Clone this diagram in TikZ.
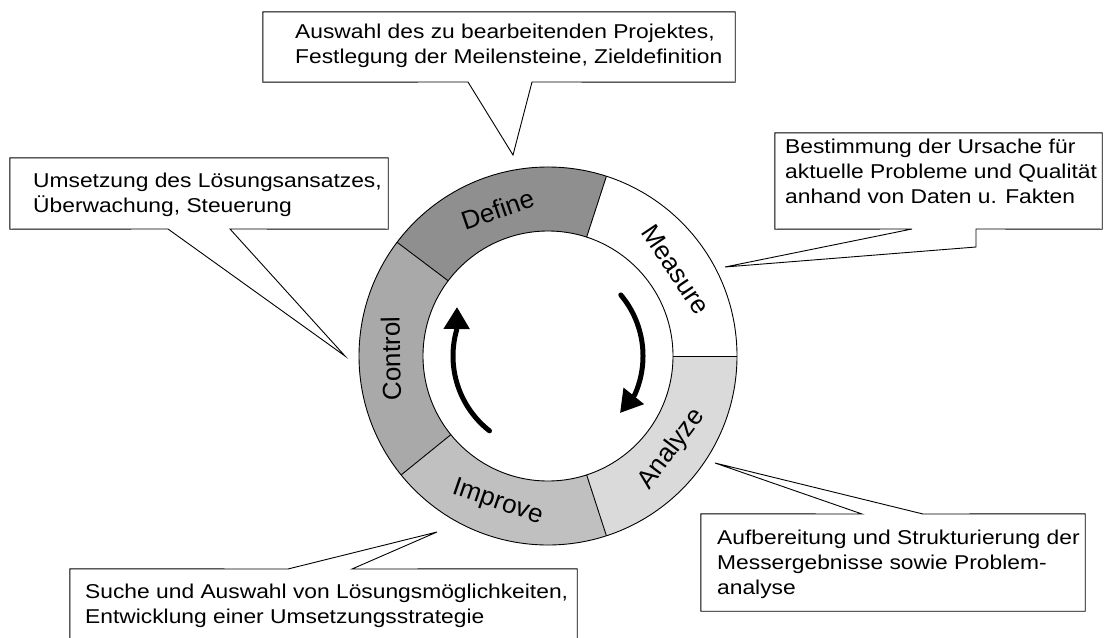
\documentclass[tikz,border=0pt]{standalone}
\usepackage{fontspec}
\setmainfont{Liberation Sans}
\newfontfamily\callfont{Liberation Sans}[FakeStretch=1.14]
\usetikzlibrary{arrows.meta}
\definecolor{cDefine}{HTML}{8F8F8F}
\definecolor{cControl}{HTML}{A9A9A9}
\definecolor{cImprove}{HTML}{C0C0C0}
\definecolor{cAnalyze}{HTML}{DADADA}
\definecolor{cMeasure}{HTML}{FFFFFF}
\begin{document}
\begin{tikzpicture}[x=1pt,y=-1pt,
  boxshape/.style={draw=none, inner sep=0pt, minimum width=#1},
  callline/.style={draw=black, fill=white, line width=0.9pt, line join=miter},
  ctext/.style={anchor=base west, inner sep=0pt, font=\callfont\fontsize{20}{24}\selectfont},
  ringlabel/.style={inner sep=0pt, font=\fontsize{26}{30}\selectfont},
  ringline/.style={draw=black, line width=0.9pt},
  cyclearrow/.style={line width=5pt, line cap=round, -{Triangle[width=25pt,length=22pt]}}]
\useasboundingbox (0,0) rectangle (1105,637);
\clip (0,0) rectangle (1105,637);
\fill[white] (0,0) rectangle (1105,637);

% ---------------- ring ----------------
\begin{scope}[shift={(548,356)}, yscale=-1]
  \fill[cMeasure] (0:189) arc[start angle=0,end angle=72,radius=189] -- (72:125) arc[start angle=72,end angle=0,radius=125] -- cycle;
  \fill[cDefine] (72:189) arc[start angle=72,end angle=143,radius=189] -- (143:125) arc[start angle=143,end angle=72,radius=125] -- cycle;
  \fill[cControl] (143:189) arc[start angle=143,end angle=219,radius=189] -- (219:125) arc[start angle=219,end angle=143,radius=125] -- cycle;
  \fill[cImprove] (219:189) arc[start angle=219,end angle=288,radius=189] -- (288:125) arc[start angle=288,end angle=219,radius=125] -- cycle;
  \fill[cAnalyze] (288:189) arc[start angle=288,end angle=360,radius=189] -- (360:125) arc[start angle=360,end angle=288,radius=125] -- cycle;
  \draw[ringline] (0,0) circle[radius=189];
  \draw[ringline] (0,0) circle[radius=125];
  \foreach \a in {0,72,143,219,288} {\draw[ringline] (\a:125) -- (\a:189);}

  \node[ringlabel, rotate=19] (lDefine) at (109:155) {Define};
  \node[ringlabel, rotate=-56] (lMeasure) at (34:154) {Measure};
  \node[ringlabel, rotate=53] (lAnalyze) at (-37:155) {Analyze};
  \node[ringlabel, rotate=-19] (lImprove) at (251:155) {Improve};
  \node[ringlabel, rotate=91] (lControl) at (181:157) {Control};

  \coordinate (ltip) at (-91,49);
  \coordinate (rtip) at (72,-57);
  \draw[cyclearrow] (232:95) arc[start angle=232,end angle=164,radius=95] -- (ltip);
  \draw[cyclearrow] (40:95) arc[start angle=40,end angle=-24,radius=95] -- (rtip);
\end{scope}

% ---------------- callout boxes ----------------
\node[boxshape=472pt, minimum height=70pt] (defbox) at (499,47) {};
\node[boxshape=378pt, minimum height=71pt] (ctlbox) at (199,193.5) {};
\node[boxshape=327pt, minimum height=96pt] (meabox) at (938.5,181) {};
\node[boxshape=384pt, minimum height=97pt] (anabox) at (893,562.5) {};
\node[boxshape=507pt, minimum height=91pt] (impbox) at (323.5,614.5) {};

\coordinate (defb1) at (468,82);
\coordinate (defb2) at (532,82);
\coordinate (deftip) at (513,155);
\coordinate (ctlb1) at (168,229);
\coordinate (ctlb2) at (230,229);
\coordinate (ctltip) at (345,356);
\coordinate (meab1) at (912,229);
\coordinate (meab2) at (976,247);
\coordinate (meab3) at (976,229);
\coordinate (meatip) at (725,267);
\coordinate (anab1) at (862,514);
\coordinate (anab2) at (923,514);
\coordinate (anatip) at (715,463);
\coordinate (impb1) at (288,569);
\coordinate (impb2) at (352,569);
\coordinate (imptip) at (437,532);

\path[callline] (defbox.north west) -- (defbox.north east) -- (defbox.south east) -- (defb2) -- (deftip) -- (defb1) -- (defbox.south west) -- cycle;
\path[callline] (ctlbox.north west) -- (ctlbox.north east) -- (ctlbox.south east) -- (ctlb2) -- (ctltip) -- (ctlb1) -- (ctlbox.south west) -- cycle;
\path[callline] (meabox.north west) -- (meabox.north east) -- (meabox.south east) -- (meab3) -- (meab2) -- (meatip) -- (meab1) -- (meabox.south west) -- cycle;
\path[callline] (anabox.north west) -- (anab1) -- (anatip) -- (anab2) -- (anabox.north east) -- (anabox.south east) -- (anabox.south west) -- cycle;
\path[callline] (impbox.north west) -- (impb1) -- (imptip) -- (impb2) -- (impbox.north east) -- (impbox.south east) -- (impbox.south west) -- cycle;

% ---------------- callout texts ----------------
\node[ctext] (def1) at (295,38) {Auswahl des zu bearbeitenden Projektes,};
\node[ctext] (def2) at (295,63) {Festlegung der Meilensteine, Zieldefinition};
\node[ctext] (ctl1) at (33,187) {Umsetzung des Lösungsansatzes,};
\node[ctext] (ctl2) at (33,212) {Überwachung, Steuerung};
\node[ctext] (mea1) at (785,153) {Bestimmung der Ursache für};
\node[ctext] (mea2) at (785,178) {aktuelle Probleme und Qualität};
\node[ctext] (mea3) at (785,203) {anhand von Daten u. Fakten};
\node[ctext] (ana1) at (717,544) {Aufbereitung und Strukturierung der};
\node[ctext] (ana2) at (717,569) {Messergebnisse sowie Problem-};
\node[ctext] (ana3) at (717,594) {analyse};
\node[ctext] (imp1) at (85,598) {Suche und Auswahl von Lösungsmöglichkeiten,};
\node[ctext] (imp2) at (85,623) {Entwicklung einer Umsetzungsstrategie};
\end{tikzpicture}
\end{document}
